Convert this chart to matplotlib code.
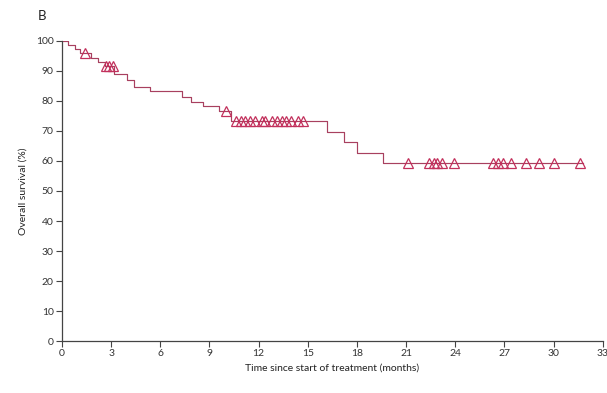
import numpy as np
import matplotlib
matplotlib.use("Agg")
import matplotlib.pyplot as plt

# Kaplan-Meier steps: event times (months) and survival (%) after each drop
event_months = [0.0, 0.4, 0.8, 1.1, 1.8, 2.2, 2.6, 3.2, 4.0, 4.4, 5.4, 7.3, 7.9, 8.6,
                9.6, 10.3, 16.2, 17.2, 18.0, 19.6]
survival_pct = [100.0, 98.6, 97.2, 95.8, 94.4, 93.0, 91.5, 89.0, 87.0, 84.6, 83.2, 81.4,
                79.8, 78.3, 76.6, 73.3, 69.5, 66.2, 62.8, 59.4]
end_month = 31.8

# censored patients (months)
censor_months = [1.4, 2.7, 2.9, 3.1, 10.0, 10.6, 10.9, 11.2, 11.5, 11.8, 12.2, 12.4,
                 12.8, 13.1, 13.4, 13.7, 14.0, 14.4, 14.7, 21.1, 22.4, 22.7, 22.9, 23.2,
                 23.9, 26.3, 26.6, 26.9, 27.4, 28.3, 29.1, 30.0, 31.6]

xticks = list(range(0, 34, 3))
yticks = list(range(0, 101, 10))

col = "#c2305c"
line_col = "#a8405f"
grey = "#444444"

plt.rcParams["font.family"] = ["Lato", "DejaVu Sans"]

fig = plt.figure(figsize=(6.07, 3.93), dpi=100)
ax = fig.add_axes([0.102, 0.132, 0.891, 0.764])

t = np.array(event_months + [end_month])
s = np.array(survival_pct + [survival_pct[-1]])
ax.step(t, s, where="post", color=line_col, lw=0.85)

# censor marks sit on the curve
idx = np.searchsorted(np.array(event_months), censor_months, side="right") - 1
cy = np.array(survival_pct)[idx]
ax.plot(censor_months, cy, ls="none", marker="^", ms=7.5, mfc="none",
        mec=col, mew=0.9)

ax.set_xlim(0, 33)
ax.set_ylim(0, 100)
ax.set_xticks(xticks)
ax.set_yticks(yticks)
for sp in ["top", "right"]:
    ax.spines[sp].set_visible(False)
for sp in ["left", "bottom"]:
    ax.spines[sp].set_color(grey)
    ax.spines[sp].set_linewidth(0.9)
ax.tick_params(direction="out", length=4, width=0.8, color=grey,
               labelsize=7.5, labelcolor="#333333", pad=2)

ax.set_xlabel("Time since start of treatment (months)", fontsize=7.5,
              color="#222222", labelpad=4)
ax.set_ylabel("Overall survival (%)", fontsize=7.5, color="#222222", labelpad=6)
fig.text(0.062, 0.96, "B", fontsize=9.5, color="#222222", ha="left", va="center")

fig.savefig("out.png", dpi=100)
